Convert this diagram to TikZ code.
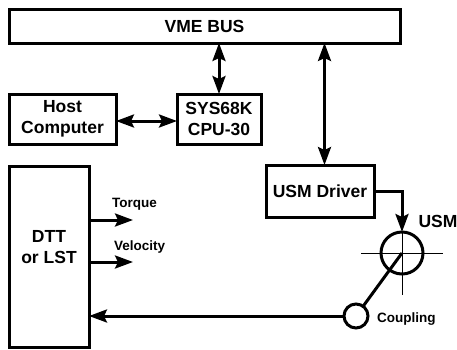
\documentclass[tikz,border=0pt]{standalone}
\usepackage{fontspec}
\setmainfont{Liberation Sans}
\usetikzlibrary{arrows.meta}
\begin{document}
\begin{tikzpicture}[x=1pt,y=-1pt,
  box/.style={draw,line width=3pt,inner sep=0pt,outer sep=0pt,align=center,
    font=\fontsize{17.5}{21}\selectfont\bfseries},
  conn/.style={line width=3pt},
  tip/.style={-{Stealth[length=18pt,width=13pt,inset=3pt]}},
  dtip/.style={{Stealth[length=18pt,width=13pt,inset=3pt]}-{Stealth[length=18pt,width=13pt,inset=3pt]}},
  small/.style={font=\fontsize{13.5}{16}\selectfont\bfseries,inner sep=0pt},
  big/.style={font=\fontsize{17.5}{21}\selectfont\bfseries,inner sep=0pt},
  ring/.style={draw,circle,line width=3pt,inner sep=0pt,outer sep=0pt}]
\useasboundingbox (0,0) rectangle (457,349);
\node[box,minimum width=391pt,minimum height=34pt] (vme) at (204.5,26) {VME BUS};
\node[box,minimum width=107pt,minimum height=50pt] (host) at (62.5,119) {Host\\Computer};
\node[box,minimum width=84pt,minimum height=50pt] (sys) at (219,119) {SYS68K\\CPU-30};
\node[box,minimum width=108pt,minimum height=52pt] (usmd) at (320,191) {USM Driver};
\node[box,minimum width=80pt,minimum height=181pt] (dtt) at (49,256.5) {};
\node[big,align=center] (dttl) at (49,247) {DTT\\or LST};
\node[ring,minimum size=42pt] (usm) at (402,253) {};
\node[ring,minimum size=24pt] (coup) at (356,316) {};
\node[big,anchor=center] (usml) at (438,221) {USM};
\node[small,anchor=base west] (coupl) at (377,322) {Coupling};
\node[small,anchor=base west] (torq) at (112,207) {Torque};
\node[small,anchor=base west] (velo) at (114,250) {Velocity};
% connectors
\draw[conn,dtip] (vme.south -| sys.north) -- (sys.north);
\draw[conn,dtip] ([xshift=4.5pt]usmd.north |- vme.south) -- ([xshift=4.5pt]usmd.north);
\draw[conn,dtip] ([yshift=-2pt]host.east) -- ([yshift=-2pt]sys.west);
\draw[conn,tip] ([yshift=36.5pt]dtt.east) coordinate (t0) -- ++(44,0) coordinate (t1);
\draw[conn,tip] ([yshift=-5.5pt]dtt.east) coordinate (v0) -- ++(44,0) coordinate (v1);
\draw[conn,tip] (coup.west) -- (coup.west -| dtt.east);
\draw[conn,tip] (usmd.east) -- (usmd.east -| usm.north) -- (usm.north);
\draw[conn] (coup) -- (usm.center);
\draw[line width=0.8pt] ([xshift=-41pt]usm.center) -- ([xshift=41pt]usm.center);
\draw[line width=0.8pt] (usm.north) -- ([yshift=-42pt]usm.center);
\end{tikzpicture}
\end{document}
